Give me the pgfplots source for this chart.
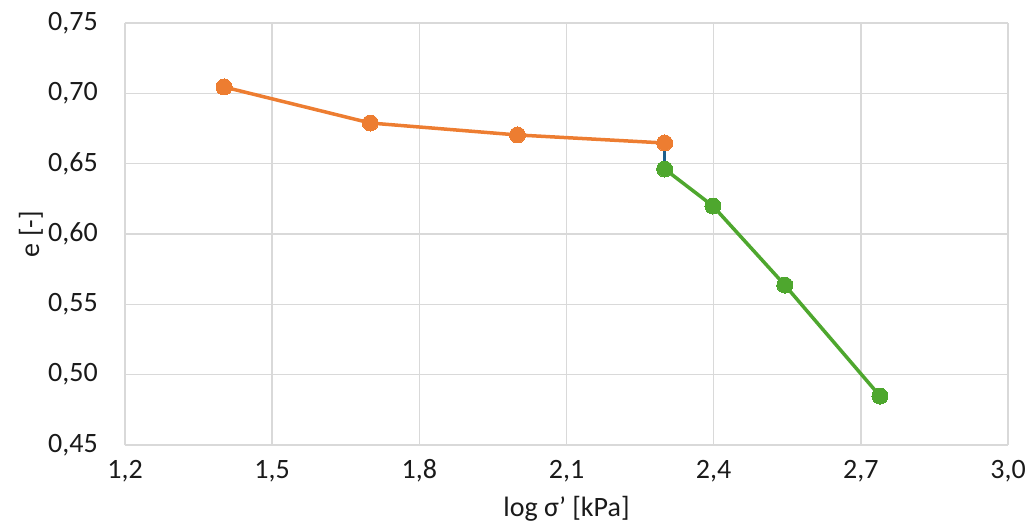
\documentclass[border=0pt]{standalone}
\usepackage{pgfplots}
\pgfplotsset{compat=1.18}
\usepackage{fontspec}
\setmainfont{Carlito}
\definecolor{gridgray}{HTML}{D9D9D9}
\definecolor{exorange}{HTML}{ED7D31}
\definecolor{exgreen}{HTML}{4EA72E}
\definecolor{exblue}{HTML}{1F5F8B}
\definecolor{txt}{HTML}{1A1A1A}
\begin{document}
\begin{tikzpicture}
\useasboundingbox (-125bp,-80bp) rectangle (907bp,445bp);
\begin{axis}[
  at={(0,0)}, anchor=south west,
  scale only axis, width=883bp, height=422bp,
  xmin=1.2, xmax=3.0, ymin=0.45, ymax=0.75,
  xtick={1.2,1.5,...,3.01}, ytick={0.45,0.50,...,0.751},
  grid=major,
  grid style={gridgray, line width=1.4bp},
  axis line style={draw=none},
  axis x line*=bottom, axis y line*=left,
  major tick length=0pt,
  clip=false,
  font=\fontsize{28bp}{32bp}\selectfont,
  every tick label/.append style={text=txt},
  /pgf/number format/assume math mode=true,
  /pgf/number format/use comma,
  xticklabel style={/pgf/number format/fixed, /pgf/number format/fixed zerofill, /pgf/number format/precision=1, anchor=base, inner sep=0pt, yshift=-33bp},
  yticklabel style={/pgf/number format/fixed, /pgf/number format/fixed zerofill, /pgf/number format/precision=2, anchor=east, inner sep=0pt, xshift=-27bp},
  xlabel={log σ’ [kPa]},
  ylabel={e [-]},
  xlabel style={at={(axis description cs:0.5,0)}, anchor=base, inner sep=0pt, yshift=-71bp, text=txt},
  ylabel style={at={(axis description cs:-0.1065,0.5)}, anchor=center, inner sep=0pt, text=txt},
]
\draw[gridgray, line width=1.6bp] (axis cs:1.2,0.45) -- (axis cs:3.0,0.45);
\addplot[exblue, line width=3.5bp, no marks] coordinates {(2.3,0.6647) (2.3,0.6462)};
\addplot[exorange, line width=3.5bp, mark=*, mark size=8bp, mark options={fill=exorange, draw=exorange, line width=0pt}]
  coordinates {(1.402,0.7045) (1.70,0.6789) (2.0,0.6704) (2.3,0.6647)};
\addplot[exgreen, line width=3.5bp, mark=*, mark size=8bp, mark options={fill=exgreen, draw=exgreen, line width=0pt}]
  coordinates {(2.3,0.6462) (2.3985,0.6199) (2.545,0.5637) (2.739,0.4848)};
\end{axis}
\end{tikzpicture}
\end{document}
